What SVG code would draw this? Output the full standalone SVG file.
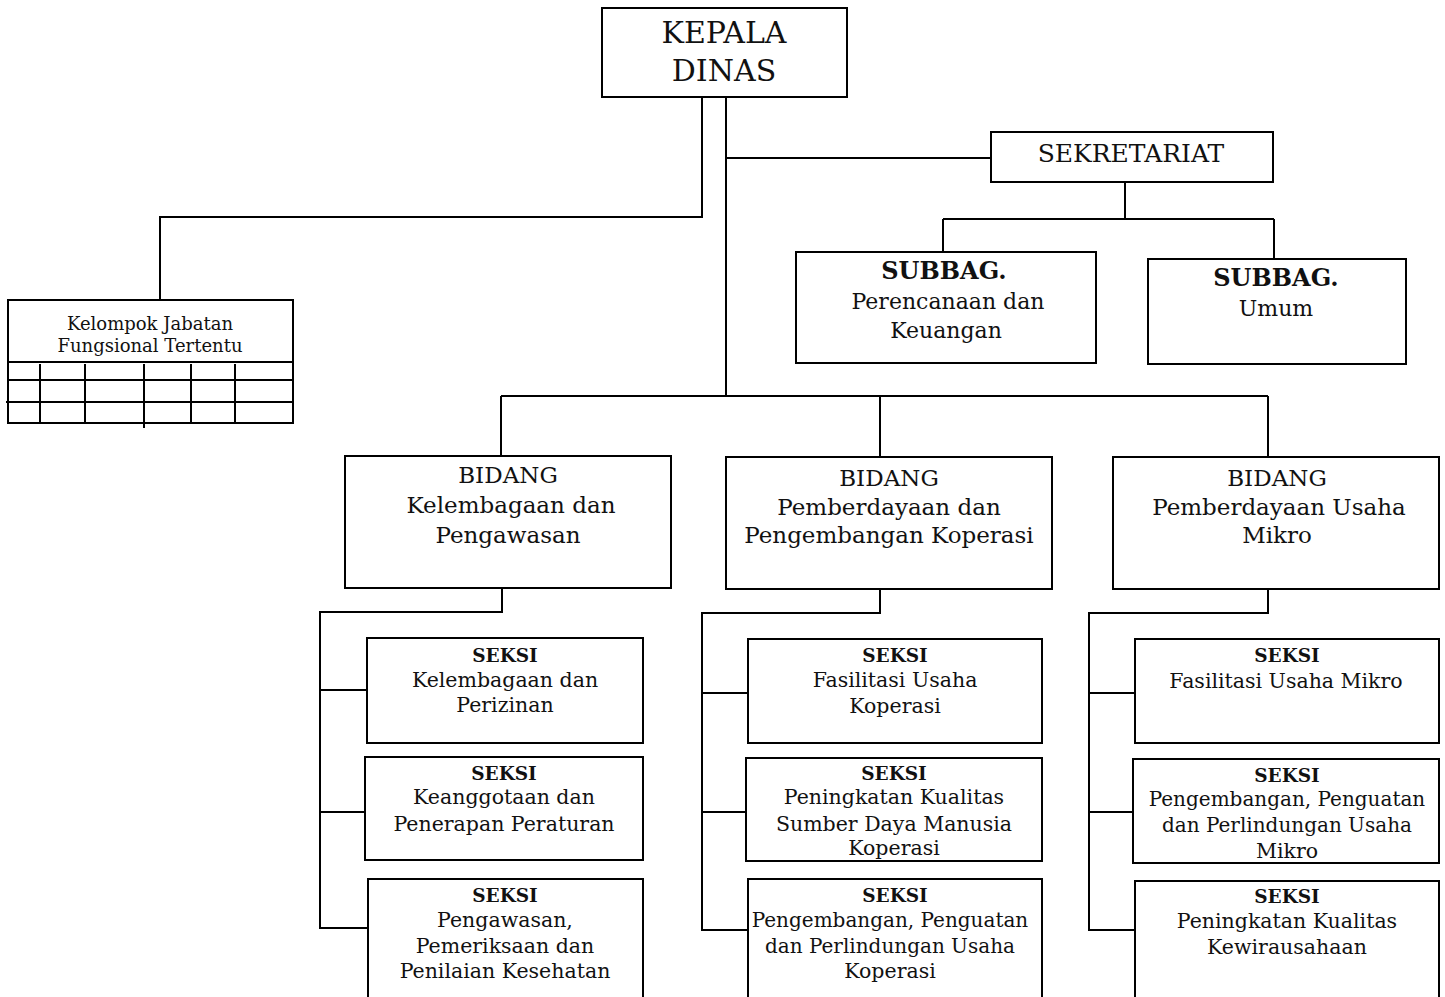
<svg xmlns="http://www.w3.org/2000/svg" width="1445" height="997" viewBox="0 0 1445 997">
<style>
.box{fill:#fff;stroke:#000;stroke-width:2}
.ln{fill:none;stroke:#000;stroke-width:2}
text{font-family:"DejaVu Serif","Liberation Serif",serif;fill:#111;text-anchor:middle}
.kd{font-size:30px}
.sk{font-size:25px}
.sb{font-size:24px;font-weight:bold}
.sbt{font-size:22px}
.bd{font-size:23px}
.sx{font-size:18.5px;font-weight:bold}
.st{font-size:20.5px}
.st2{font-size:20px}
.kj{font-size:18px}
</style>
<defs>
<clipPath id="cKJ"><rect x="8" y="301" width="284" height="60"/></clipPath>
<clipPath id="cK2"><rect x="746" y="758" width="296" height="102"/></clipPath>
<clipPath id="cM2"><rect x="1133" y="759" width="306" height="103"/></clipPath>
</defs>
<rect width="1445" height="997" fill="#fff"/>
<g id="connectors">
<path class="ln" d="M702 97V217H160V300"/>
<path class="ln" d="M726 97V396"/>
<path class="ln" d="M726 158H991"/>
<path class="ln" d="M1125 182V219M943 219H1274M943 219V252M1274 219V259"/>
<path class="ln" d="M501 396H1268M501 396V456M880 396V457M1268 396V457"/>
<path class="ln" d="M502 588V612H320V928H367M320 690H367M320 812H365"/>
<path class="ln" d="M880 589V613H702V930H748M702 693H748M702 812H746"/>
<path class="ln" d="M1268 589V613H1089V930H1135M1089 693H1135M1089 812H1133"/>
</g>
<g id="kepala">
<rect class="box" x="602" y="8" width="245" height="89"/>
<text class="kd" x="724" y="43">KEPALA</text>
<text class="kd" x="724" y="81">DINAS</text>
</g>
<g id="sekretariat">
<rect class="box" x="991" y="132" width="282" height="50"/>
<text class="sk" x="1131" y="162">SEKRETARIAT</text>
</g>
<g id="subbag-perencanaan">
<rect class="box" x="796" y="252" width="300" height="111"/>
<text class="sb" x="944" y="279">SUBBAG.</text>
<text class="sbt" x="948" y="309">Perencanaan dan</text>
<text class="sbt" x="946" y="338">Keuangan</text>
</g>
<g id="subbag-umum">
<rect class="box" x="1148" y="259" width="258" height="105"/>
<text class="sb" x="1276" y="286">SUBBAG.</text>
<text class="sbt" x="1276" y="316">Umum</text>
</g>
<g id="kelompok">
<rect class="box" x="8" y="300" width="285" height="123"/>
<g clip-path="url(#cKJ)">
<text class="kj" x="150" y="330">Kelompok Jabatan</text>
<text class="kj" x="150" y="352">Fungsional Tertentu</text>
</g>
<path class="ln" d="M8 362H293M8 380H293M6 402H293M40 364V423M85 364V423M144 364V428M191 364V423M235 364V423"/>
</g>
<g id="bidang-kelembagaan">
<rect class="box" x="345" y="456" width="326" height="132"/>
<text class="bd" x="508" y="483">BIDANG</text>
<text class="bd" x="511" y="513">Kelembagaan dan</text>
<text class="bd" x="508" y="543">Pengawasan</text>
</g>
<g id="bidang-koperasi">
<rect class="box" x="726" y="457" width="326" height="132"/>
<text class="bd" x="889" y="486">BIDANG</text>
<text class="bd" x="889" y="515">Pemberdayaan dan</text>
<text class="bd" x="889" y="543">Pengembangan Koperasi</text>
</g>
<g id="bidang-mikro">
<rect class="box" x="1113" y="457" width="326" height="132"/>
<text class="bd" x="1277" y="486">BIDANG</text>
<text class="bd" x="1279" y="515">Pemberdayaan Usaha</text>
<text class="bd" x="1277" y="543">Mikro</text>
</g>
<g id="seksi-kelembagaan">
<rect class="box" x="367" y="638" width="276" height="105"/>
<text class="sx" x="505" y="662">SEKSI</text>
<text class="st" x="505" y="687">Kelembagaan dan</text>
<text class="st" x="505" y="712">Perizinan</text>
</g>
<g id="seksi-keanggotaan">
<rect class="box" x="365" y="757" width="278" height="103"/>
<text class="sx" x="504" y="780">SEKSI</text>
<text class="st" x="504" y="804">Keanggotaan dan</text>
<text class="st" x="504" y="831">Penerapan Peraturan</text>
</g>
<g id="seksi-pengawasan">
<rect class="box" x="368" y="879" width="275" height="130"/>
<text class="sx" x="505" y="902">SEKSI</text>
<text class="st" x="505" y="927">Pengawasan,</text>
<text class="st" x="505" y="953">Pemeriksaan dan</text>
<text class="st" x="505" y="978">Penilaian Kesehatan</text>
</g>
<g id="seksi-fasilitasi-koperasi">
<rect class="box" x="748" y="639" width="294" height="104"/>
<text class="sx" x="895" y="662">SEKSI</text>
<text class="st" x="895" y="687">Fasilitasi Usaha</text>
<text class="st" x="895" y="713">Koperasi</text>
</g>
<g id="seksi-sdm-koperasi">
<rect class="box" x="746" y="758" width="296" height="103"/>
<g clip-path="url(#cK2)">
<text class="sx" x="894" y="780">SEKSI</text>
<text class="st" x="894" y="804">Peningkatan Kualitas</text>
<text class="st" x="894" y="831">Sumber Daya Manusia</text>
<text class="st" x="894" y="855">Koperasi</text>
</g>
</g>
<g id="seksi-pengembangan-koperasi">
<rect class="box" x="748" y="879" width="294" height="130"/>
<text class="sx" x="895" y="902">SEKSI</text>
<text class="st2" x="890" y="927">Pengembangan, Penguatan</text>
<text class="st2" x="890" y="953">dan Perlindungan Usaha</text>
<text class="st" x="890" y="978">Koperasi</text>
</g>
<g id="seksi-fasilitasi-mikro">
<rect class="box" x="1135" y="639" width="304" height="104"/>
<text class="sx" x="1287" y="662">SEKSI</text>
<text class="st" x="1286" y="688">Fasilitasi Usaha Mikro</text>
</g>
<g id="seksi-pengembangan-mikro">
<rect class="box" x="1133" y="759" width="306" height="104"/>
<g clip-path="url(#cM2)">
<text class="sx" x="1287" y="782">SEKSI</text>
<text class="st2" x="1287" y="806">Pengembangan, Penguatan</text>
<text class="st2" x="1287" y="832">dan Perlindungan Usaha</text>
<text class="st" x="1287" y="858">Mikro</text>
</g>
</g>
<g id="seksi-kewirausahaan">
<rect class="box" x="1135" y="881" width="304" height="130"/>
<text class="sx" x="1287" y="903">SEKSI</text>
<text class="st" x="1287" y="928">Peningkatan Kualitas</text>
<text class="st" x="1287" y="954">Kewirausahaan</text>
</g>
</svg>
